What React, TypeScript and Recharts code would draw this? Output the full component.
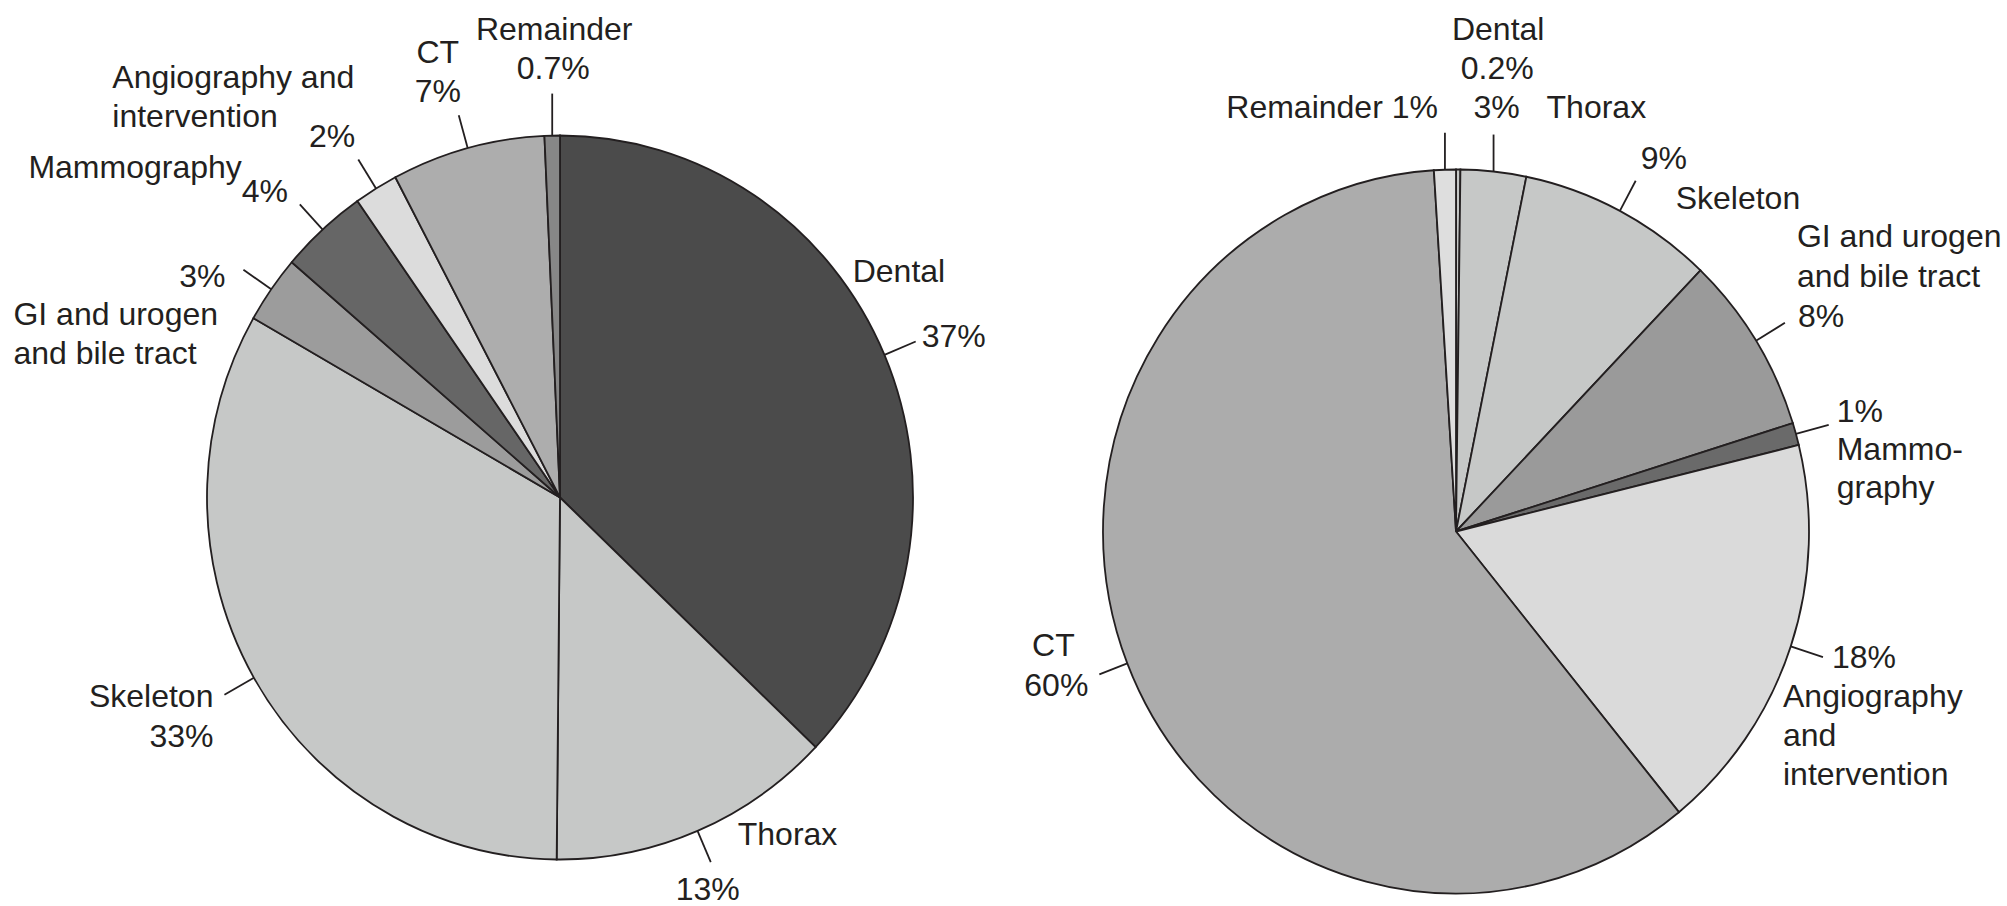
import React from "react";
import { PieChart, Pie, Cell } from "recharts";

// Share of examinations (left) and of collective dose (right) per modality, in %
const leftShares = [37, 13, 33, 3, 4, 2, 7, 0.7];
const rightShares = [0.2, 3, 9, 8, 1, 18, 60, 1];

const leftLabelLines = [
  ["Dental"],
  ["Thorax"],
  ["Skeleton"],
  ["GI and urogen", "and bile tract"],
  ["Mammography"],
  ["Angiography and", "intervention"],
  ["CT"],
  ["Remainder"],
];
const rightLabelLines = [
  ["Dental"],
  ["Thorax"],
  ["Skeleton"],
  ["GI and urogen", "and bile tract"],
  ["Mammo-", "graphy"],
  ["Angiography", "and", "intervention"],
  ["CT"],
  ["Remainder"],
];

const leftFills = ["#4b4b4b", "#c6c8c7", "#c6c8c7", "#9c9c9c", "#666666", "#dcdcdc", "#adadad", "#878787"];
const rightFills = ["#c6c8c7", "#c6c8c7", "#c6c8c7", "#9a9a9a", "#6a6a6a", "#dadada", "#acacac", "#dedede"];

const INK = "#231f20";
const RX = 353;
const RY = 362;
const FONT = "'Liberation Sans', Arial, Helvetica, sans-serif";

type Item = { k: number | "pct" | "namePct"; dx: number; dy: number; anchor?: "start" | "middle" | "end" };
type Layout = { lead: number; vertical?: boolean; items: Item[] };

const leftLayout: Layout[] = [
  { lead: 34, items: [{ k: 0, dx: -63, dy: -60 }, { k: "pct", dx: 6, dy: 5 }] },
  { lead: 34, items: [{ k: 0, dx: 27, dy: -17 }, { k: "pct", dx: -3, dy: 38, anchor: "middle" }] },
  { lead: 34, items: [{ k: 0, dx: -11, dy: 12, anchor: "end" }, { k: "pct", dx: -11, dy: 52, anchor: "end" }] },
  { lead: 34, items: [{ k: "pct", dx: -18, dy: 17, anchor: "end" }, { k: 0, dx: -230, dy: 55 }, { k: 1, dx: -230, dy: 94 }] },
  { lead: 34, items: [{ k: 0, dx: -58, dy: -26, anchor: "end" }, { k: "pct", dx: -58, dy: -2 }] },
  { lead: 34, items: [{ k: "pct", dx: -3, dy: -13, anchor: "end" }, { k: 0, dx: -246, dy: -72 }, { k: 1, dx: -246, dy: -33 }] },
  { lead: 34, items: [{ k: 0, dx: -21, dy: -52, anchor: "middle" }, { k: "pct", dx: -21, dy: -13, anchor: "middle" }] },
  { lead: 42, vertical: true, items: [{ k: 0, dx: 2, dy: -54, anchor: "middle" }, { k: "pct", dx: 1, dy: -15, anchor: "middle" }] },
];

const rightLayout: Layout[] = [
  { lead: 0, items: [{ k: 0, dx: 40, dy: -130, anchor: "middle" }, { k: "pct", dx: 39, dy: -91, anchor: "middle" }] },
  { lead: 37, vertical: true, items: [{ k: "pct", dx: 3, dy: -17, anchor: "middle" }, { k: 0, dx: 53, dy: -17 }] },
  { lead: 34, items: [{ k: "pct", dx: 5, dy: -12 }, { k: 0, dx: 40, dy: 28 }] },
  { lead: 34, items: [{ k: 0, dx: 12, dy: -76 }, { k: 1, dx: 12, dy: -36 }, { k: "pct", dx: 13, dy: 4 }] },
  { lead: 34, items: [{ k: "pct", dx: 8, dy: -3 }, { k: 0, dx: 8, dy: 35 }, { k: 1, dx: 8, dy: 73 }] },
  { lead: 34, items: [{ k: "pct", dx: 9, dy: 11 }, { k: 0, dx: -40, dy: 50 }, { k: 1, dx: -40, dy: 89 }, { k: 2, dx: -40, dy: 128 }] },
  { lead: 30, items: [{ k: 0, dx: -46, dy: -18, anchor: "middle" }, { k: "pct", dx: -43, dy: 22, anchor: "middle" }] },
  { lead: 37, vertical: true, items: [{ k: "namePct", dx: -7, dy: -15, anchor: "end" }] },
];

const RAD = Math.PI / 180;

function makeLabel(cx: number, cy: number, lines: string[][], layout: Layout[]) {
  return (props: any) => {
    const { midAngle, index, value } = props;
    const cfg = layout[index];
    const c = Math.cos(midAngle * RAD);
    const s = Math.sin(midAngle * RAD);
    // rim point on the (slightly tall) ellipse
    const x0 = cx + RX * c;
    const y0 = cy - RY * s;
    const x1 = cfg.vertical ? x0 : x0 + cfg.lead * c;
    const y1 = cfg.vertical ? y0 - cfg.lead : y0 - cfg.lead * s;
    const pct = `${value}%`;
    return (
      <g key={`lbl-${index}`}>
        {cfg.lead > 0 && <line x1={x0} y1={y0} x2={x1} y2={y1} stroke={INK} strokeWidth={1.8} />}
        {cfg.items.map((it, i) => {
          const txt = it.k === "pct" ? pct : it.k === "namePct" ? `${lines[index].join(" ")} ${pct}` : lines[index][it.k];
          return (
            <text key={i} x={x1 + it.dx} y={y1 + it.dy} textAnchor={it.anchor ?? "start"}
              fontFamily={FONT} fontSize={32} fill={INK}>
              {txt}
            </text>
          );
        })}
      </g>
    );
  };
}

function ModalityPie({ shares, lines, fills, layout, cx, cy, width, cls }: {
  shares: number[]; lines: string[][]; fills: string[]; layout: Layout[];
  cx: number; cy: number; width: number; cls: string;
}) {
  const data = shares.map((v, i) => ({ name: lines[i].join(" "), value: v }));
  return (
    <div className={cls} style={{ width, height: 906 }}>
      <PieChart width={width} height={906} margin={{ top: 0, right: 0, bottom: 0, left: 0 }}>
        <Pie data={data} dataKey="value" nameKey="name" cx={cx} cy={cy} innerRadius={0} outerRadius={RX}
          startAngle={90} endAngle={-270} stroke={INK} strokeWidth={1.8}
          isAnimationActive={false} labelLine={false} label={makeLabel(cx, cy, lines, layout)}>
          {data.map((d, i) => <Cell key={d.name} fill={fills[i]} />)}
        </Pie>
      </PieChart>
    </div>
  );
}

export default function App() {
  const stretch = RY / RX;
  return (
    <div style={{ position: "absolute", left: 0, top: 0, width: 2007, height: 906, background: "#fff", display: "flex" }}>
      <style>{`
        .pie-l .recharts-pie-sector{transform-box:view-box;transform-origin:560px 497.5px;transform:scaleY(${stretch})}
        .pie-r .recharts-pie-sector{transform-box:view-box;transform-origin:456px 531.5px;transform:scaleY(${stretch})}
      `}</style>
      <ModalityPie shares={leftShares} lines={leftLabelLines} fills={leftFills} layout={leftLayout}
        cx={560} cy={497.5} width={1000} cls="pie-l" />
      <ModalityPie shares={rightShares} lines={rightLabelLines} fills={rightFills} layout={rightLayout}
        cx={456} cy={531.5} width={1007} cls="pie-r" />
    </div>
  );
}
